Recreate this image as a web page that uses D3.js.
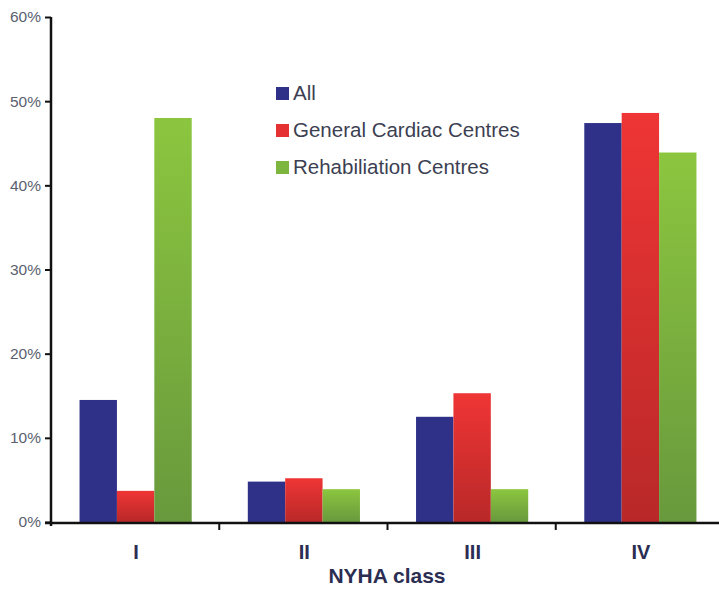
<!DOCTYPE html>
<html>
<head>
<meta charset="utf-8">
<script src="https://cdn.jsdelivr.net/npm/d3@7"></script>
<style>
  html, body { margin: 0; padding: 0; background: #fff; }
  svg { display: block; font-family: "Liberation Sans", Arial, sans-serif; }
</style>
</head>
<body>
<svg id="chart" width="719" height="589"></svg>
<script>
// NYHA class distribution by centre type (percent of patients)
const categories = ["I", "II", "III", "IV"];
const seriesNames = ["All", "General Cardiac Centres", "Rehabiliation Centres"];
const allValues = [14.5, 4.8, 12.5, 47.4];
const generalCardiacValues = [3.7, 5.2, 15.3, 48.6];
const rehabValues = [48.0, 3.9, 3.9, 43.9];
const yTicks = [0, 10, 20, 30, 40, 50, 60];

const seriesValues = [allValues, generalCardiacValues, rehabValues];

const svg = d3.select("#chart");
const margin = { left: 51, right: -5, top: 17, bottom: 66 };
const W = 719, H = 589;

const x0 = d3.scaleBand()
  .domain(categories)
  .range([margin.left, W - margin.right])
  .padding(0);

const x1 = d3.scaleBand()
  .domain(seriesNames)
  .range([x0.bandwidth() / 6 + 0.5, x0.bandwidth() * 5 / 6 + 0.5])
  .padding(0);

const y = d3.scaleLinear()
  .domain([0, 60])
  .range([H - margin.bottom - 1, margin.top]);

// Bar fills: flat navy, vertical shaded red and green
const defs = svg.append("defs");
const gradRed = defs.append("linearGradient").attr("id", "gRed")
  .attr("x1", 0).attr("y1", 0).attr("x2", 0).attr("y2", 1);
gradRed.append("stop").attr("offset", "0%").attr("stop-color", "#ef3535");
gradRed.append("stop").attr("offset", "100%").attr("stop-color", "#b92828");
const gradGreen = defs.append("linearGradient").attr("id", "gGreen")
  .attr("x1", 0).attr("y1", 0).attr("x2", 0).attr("y2", 1);
gradGreen.append("stop").attr("offset", "0%").attr("stop-color", "#8cc63f");
gradGreen.append("stop").attr("offset", "100%").attr("stop-color", "#68993d");

const fills = ["#2e3187", "url(#gRed)", "url(#gGreen)"];
const legendFills = ["#2e3187", "#e53131", "#7db63e"];

// Bars
const rows = categories.map((c, i) => ({
  cat: c,
  vals: seriesNames.map((s, j) => ({ s, j, v: seriesValues[j][i] }))
}));

const groups = svg.append("g").selectAll("g")
  .data(rows).join("g")
  .attr("transform", d => `translate(${x0(d.cat)},0)`);

groups.selectAll("rect")
  .data(d => d.vals).join("rect")
  .attr("x", d => x1(d.s))
  .attr("width", x1.bandwidth())
  .attr("y", d => y(d.v))
  .attr("height", d => y(0) - y(d.v))
  .attr("fill", d => fills[d.j]);

// Y axis
const yAxis = svg.append("g")
  .attr("transform", `translate(${margin.left},0)`)
  .call(d3.axisLeft(y).tickValues(yTicks).tickFormat(d => d + "%").tickSize(6).tickSizeOuter(0));
yAxis.select(".domain").attr("stroke", "#111").attr("stroke-width", 2.5)
  .attr("d", `M0,${y(60)}V${y(0) + 4}`);
yAxis.selectAll(".tick line").attr("stroke", "#111").attr("stroke-width", 2);
yAxis.selectAll(".tick text")
  .attr("x", -10)
  .attr("fill", "#5a5f70")
  .style("font-size", "15.5px")
  .style("font-family", "'Liberation Sans', Arial, sans-serif");

// X axis with separators between classes
const xAxisG = svg.append("g").attr("transform", `translate(0,${y(0) + 1})`);
xAxisG.append("line")
  .attr("x1", margin.left - 6).attr("x2", W)
  .attr("stroke", "#111").attr("stroke-width", 2.5);
xAxisG.selectAll("line.sep")
  .data(categories.slice(1)).join("line")
  .attr("class", "sep")
  .attr("x1", d => x0(d)).attr("x2", d => x0(d))
  .attr("y1", 0).attr("y2", 7)
  .attr("stroke", "#111").attr("stroke-width", 2);
xAxisG.selectAll("text")
  .data(categories).join("text")
  .attr("x", d => x0(d) + x0.bandwidth() / 2 + 1)
  .attr("y", 36)
  .attr("text-anchor", "middle")
  .attr("fill", "#2b2d52")
  .style("font-size", "20px")
  .style("font-weight", "bold")
  .text(d => d);

svg.append("text")
  .attr("x", 387)
  .attr("y", 583)
  .attr("text-anchor", "middle")
  .attr("fill", "#2b2d52")
  .style("font-size", "21px")
  .style("font-weight", "bold")
  .text("NYHA class");

// Legend
const legend = svg.append("g").attr("transform", "translate(276,87)");
const li = legend.selectAll("g")
  .data(seriesNames).join("g")
  .attr("transform", (d, i) => `translate(0,${i * 37})`);
li.append("rect")
  .attr("width", 13).attr("height", 13)
  .attr("fill", (d, i) => legendFills[i]);
li.append("text")
  .attr("x", 17).attr("y", 13)
  .attr("fill", "#3c3f52")
  .style("font-size", "20.5px")
  .text(d => d);
</script>
</body>
</html>
